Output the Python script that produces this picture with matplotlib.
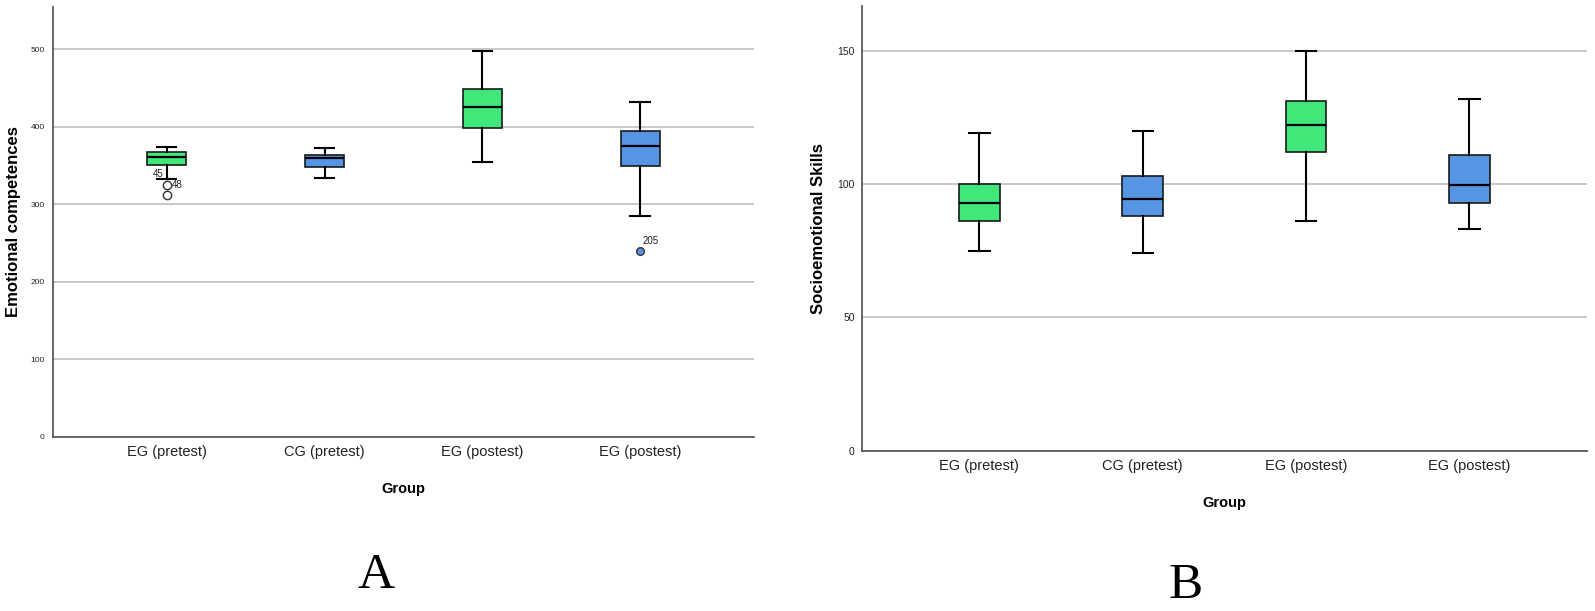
import matplotlib
matplotlib.use("Agg")
import matplotlib.pyplot as plt

plt.rcParams['font.family'] = ['Liberation Sans', 'DejaVu Sans']

# grupos
grupos = ["EG (pretest)", "CG (pretest)", "EG (postest)", "EG (postest)"]
colores = ["#40e87a", "#5595e4", "#40e87a", "#5595e4"]

# A: competencias emocionales
emo_whislo = [332, 334, 354, 285]
emo_q1 = [351, 348, 398, 349]
emo_med = [361, 360, 425, 375]
emo_q3 = [368, 364, 449, 395]
emo_whishi = [374, 373, 498, 432]
emo_fliers = [[325, 312], [], [], [240]]

# B: habilidades socioemocionales
soc_whislo = [75, 74, 86, 83]
soc_q1 = [86, 88, 112, 93]
soc_med = [93, 94.5, 122, 99.7]
soc_q3 = [100, 103, 131, 111]
soc_whishi = [119, 120, 150, 132]


def hacer_stats(lo, q1, med, q3, hi, fliers=None):
    stats = []
    for i in range(len(lo)):
        stats.append(dict(whislo=lo[i], q1=q1[i], med=med[i], q3=q3[i],
                          whishi=hi[i], fliers=fliers[i] if fliers else []))
    return stats


def dibujar(ax, stats, ymax, yticks, ylabel, tick_size, tick_pad):
    pos = list(range(1, len(stats) + 1))
    bp = ax.bxp(stats, positions=pos, widths=0.25, capwidths=0.125,
                patch_artist=True, showfliers=True,
                boxprops=dict(edgecolor="#1a1a1a", linewidth=1.2),
                medianprops=dict(color="black", linewidth=1.6),
                whiskerprops=dict(color="black", linewidth=1.5),
                capprops=dict(color="black", linewidth=1.5),
                flierprops=dict(marker="o", markersize=6, markerfacecolor="white",
                                markeredgecolor="#333333", markeredgewidth=1))
    for caja, c in zip(bp["boxes"], colores):
        caja.set_facecolor(c)
    ax.set_xlim(0.28, 4.72)
    ax.set_ylim(0, ymax)
    ax.set_yticks(yticks)
    ax.yaxis.grid(True, color="#c4c4c4", linewidth=1.3)
    ax.set_axisbelow(True)
    ax.set_xticks(pos)
    ax.set_xticklabels(grupos, fontsize=10.5, color="#222222")
    ax.tick_params(axis="x", length=0, pad=6)
    ax.tick_params(axis="y", length=0, pad=tick_pad, labelsize=tick_size, colors="#222222")
    for s in ["top", "right"]:
        ax.spines[s].set_visible(False)
    for s in ["left", "bottom"]:
        ax.spines[s].set_color("#5a5a5a")
        ax.spines[s].set_linewidth(1.3)
    ax.set_ylabel(ylabel, fontsize=12, fontweight="bold")
    ax.set_xlabel("Group", fontsize=10.5, fontweight="bold")
    return bp


fig = plt.figure(figsize=(15.95, 6.11), dpi=100)
ax1 = fig.add_axes([0.0332, 0.2853, 0.4395, 0.7037])
ax2 = fig.add_axes([0.5403, 0.2624, 0.4547, 0.7278])

bp1 = dibujar(ax1, hacer_stats(emo_whislo, emo_q1, emo_med, emo_q3, emo_whishi, emo_fliers),
              555, [0, 100, 200, 300, 400, 500], "Emotional competences", 6, 6)
bp2 = dibujar(ax2, hacer_stats(soc_whislo, soc_q1, soc_med, soc_q3, soc_whishi),
              166.8, [0, 50, 100, 150], "Socioemotional Skills", 7.5, 5)

# el outlier 205 va relleno de azul
bp1["fliers"][3].set_markerfacecolor(colores[3])
bp1["fliers"][3].set_markersize(5.5)

# etiquetas de casos
ax1.text(0.98, 333, "45", fontsize=7, ha="right", va="bottom", color="#222222")
ax1.text(1.03, emo_fliers[0][0], "48", fontsize=7, ha="left", va="center", color="#222222")
ax1.text(4.015, 246, "205", fontsize=7, ha="left", va="bottom", color="#222222")

ax1.yaxis.set_label_coords(-0.045, 0.5)
ax2.yaxis.set_label_coords(-0.049, 0.5)
ax1.xaxis.set_label_coords(0.5, -0.105)
ax2.xaxis.set_label_coords(0.5, -0.102)

fig.text(0.2357, 0.037, "A", fontsize=37, family="Liberation Serif", ha="center", va="baseline")
fig.text(0.7433, 0.021, "B", fontsize=37, family="Liberation Serif", ha="center", va="baseline")

fig.savefig("out.png", dpi=100, facecolor="white")
